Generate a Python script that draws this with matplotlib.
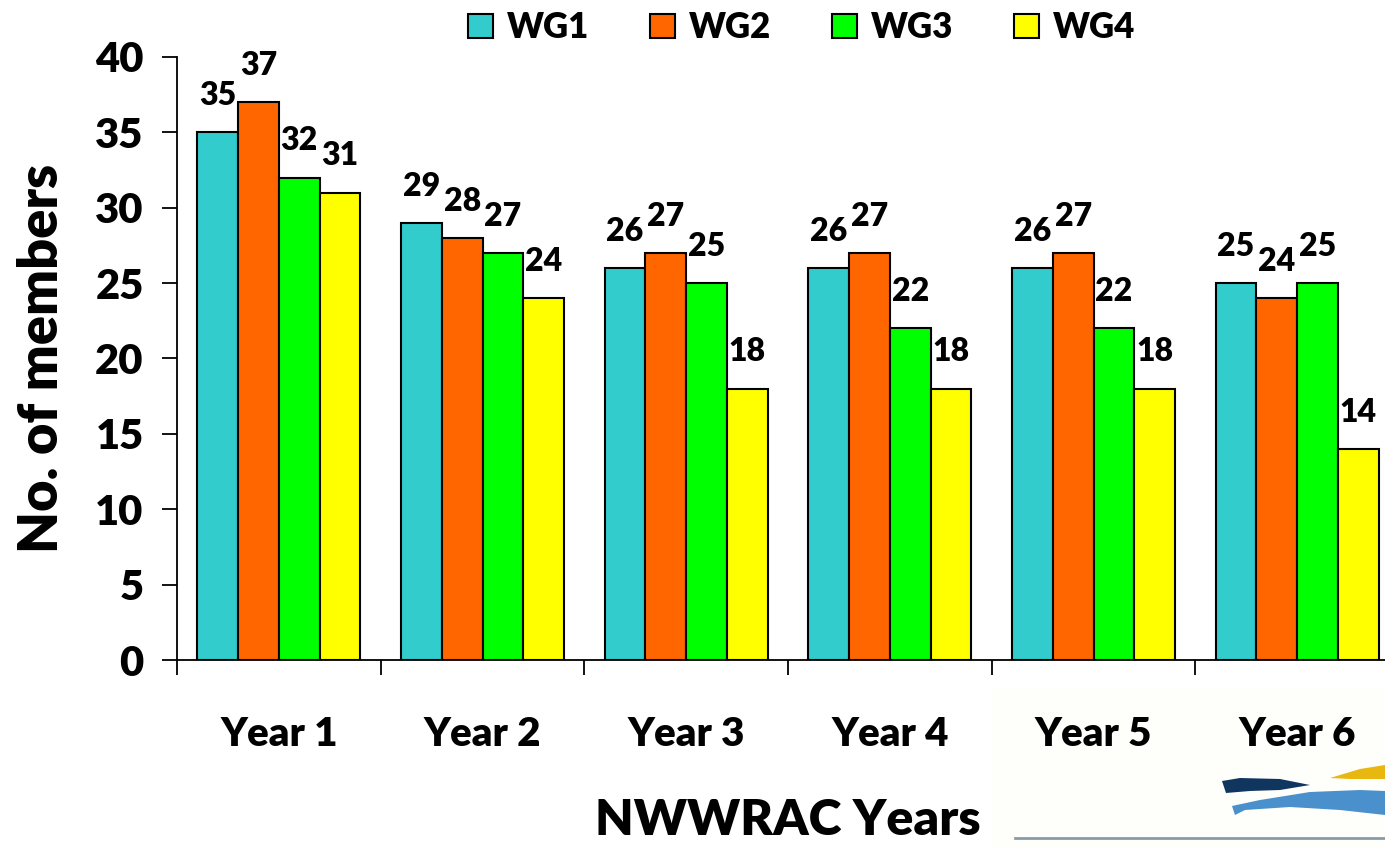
import matplotlib
matplotlib.use("Agg")
import matplotlib.pyplot as plt
from matplotlib.patches import Rectangle, Polygon
import numpy as np

years = ["Year 1", "Year 2", "Year 3", "Year 4", "Year 5", "Year 6"]
series_names = ["WG1", "WG2", "WG3", "WG4"]
wg1 = [35, 29, 26, 26, 26, 25]
wg2 = [37, 28, 27, 27, 27, 24]
wg3 = [32, 27, 25, 22, 22, 25]
wg4 = [31, 24, 18, 18, 18, 14]
colors = ["#33CCCC", "#FF6600", "#00FF00", "#FFFF00"]

plt.rcParams['font.family'] = ['Lato', 'DejaVu Sans']
WT = "heavy"
plt.rcParams['font.weight'] = WT

W, H = 1385, 849
fig = plt.figure(figsize=(W / 100, H / 100), dpi=100)

# background panel for the logo area
fig.patches.append(Rectangle((991 / W, 0), (W - 991) / W, (849 - 688) / H,
                             transform=fig.transFigure, facecolor="#FEFEFA",
                             edgecolor="none", zorder=-2))

ax = fig.add_axes([177 / W, (H - 660) / H, (1399 - 177) / W, (660 - 57) / H])
ax.patch.set_alpha(0)
ax.set_zorder(2)

x = np.arange(len(years))
bw = 0.2
all_series = [wg1, wg2, wg3, wg4]
for i, (vals, c, name) in enumerate(zip(all_series, colors, series_names)):
    pos = x + (i - 1.5) * bw
    ax.bar(pos, vals, width=bw, color=c, edgecolor="black", linewidth=1.5,
           label=name, zorder=3)
    for p, v in zip(pos, vals):
        ax.annotate(str(v), (p, v), xytext=(0, 16), textcoords="offset points",
                    ha="center", va="bottom", fontsize=23, fontweight=WT)

ax.set_xlim(-0.5, len(years) - 0.5)
ax.set_ylim(0, 40)
ax.set_yticks(range(0, 41, 5))
ax.tick_params(axis="y", direction="out", length=11, width=1.3, pad=13,
               labelsize=30)
ax.set_xticks(x)
ax.set_xticklabels(years)
ax.set_xticks(np.arange(-0.5, len(years)), minor=True)
ax.tick_params(axis="x", which="major", length=0, pad=40, labelsize=29)
ax.tick_params(axis="x", which="minor", direction="out", length=11, width=1.3)
for lab in ax.get_xticklabels() + ax.get_yticklabels():
    lab.set_fontweight(WT)

for s in ["top", "right"]:
    ax.spines[s].set_visible(False)
for s in ["left", "bottom"]:
    ax.spines[s].set_linewidth(1.3)

ax.set_ylabel("No. of members", fontsize=39, fontweight=WT, labelpad=20)
ax.set_xlabel("NWWRAC Years", fontsize=36, fontweight=WT, labelpad=33)

leg = ax.legend(loc="lower center", ncol=4, frameon=False,
                handlelength=0.72, handleheight=0.7,
                handletextpad=0.4, columnspacing=1.75, borderaxespad=0.0,
                borderpad=0.0, prop={"weight": WT, "size": 25})
leg.set_bbox_to_anchor((802 / W, (H - 44) / H), transform=fig.transFigure)
for h in leg.legend_handles:
    h.set_linewidth(1.5)

# logo approximation
logo = [
    ([(1222, 781), (1240, 778), (1280, 779), (1310, 785), (1280, 790), (1250, 791), (1226, 793)], "#10355F"),
    ([(1232, 806), (1260, 800), (1310, 792), (1360, 790), (1385, 791), (1385, 815), (1340, 810), (1290, 807), (1245, 810), (1235, 815)], "#4A90CC"),
    ([(1330, 778), (1360, 769), (1385, 765), (1385, 779), (1350, 779)], "#E8B810"),
]
for pts, col in logo:
    fig.patches.append(Polygon([(px / W, (H - py) / H) for px, py in pts], closed=True,
                               transform=fig.transFigure, facecolor=col,
                               edgecolor="none", zorder=-1))
fig.lines.append(plt.Line2D([1015 / W, 1.0], [(H - 838) / H] * 2,
                            transform=fig.transFigure, color="#8A9BA8", lw=2,
                            zorder=-1))

fig.savefig("out.png", dpi=100)
